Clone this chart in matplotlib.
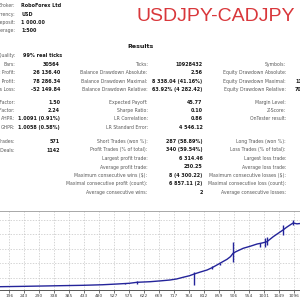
import matplotlib
matplotlib.use('Agg')
import matplotlib.pyplot as plt

W = H = 300

# header block
header_labels = ['Broker:', 'Currency:', 'Initial Deposit:', 'Leverage:']
header_values = ['RoboForex Ltd', 'USD', '1 000.00', '1:500']

# results table: (label, value, label, value, label, value)
sec1 = [
    ('Bars:', '30564', 'Ticks:', '10928432', 'Symbols:', ''),
    ('Total Net Profit:', '26 136.40', 'Balance Drawdown Absolute:', '2.56', 'Equity Drawdown Absolute:', ''),
    ('Gross Profit:', '78 286.34', 'Balance Drawdown Maximal:', '8 338.04 (41.16%)', 'Equity Drawdown Maximal:', '11'),
    ('Gross Loss:', '-52 149.84', 'Balance Drawdown Relative:', '63.92% (4 282.42)', 'Equity Drawdown Relative:', '70'),
]
sec2 = [
    ('Profit Factor:', '1.50', 'Expected Payoff:', '45.77', 'Margin Level:', ''),
    ('Recovery Factor:', '2.24', 'Sharpe Ratio:', '0.10', 'Z-Score:', ''),
    ('AHPR:', '1.0091 (0.91%)', 'LR Correlation:', '0.86', 'OnTester result:', ''),
    ('GHPR:', '1.0058 (0.58%)', 'LR Standard Error:', '4 546.12', '', ''),
]
sec3 = [
    ('Total Trades:', '571', 'Short Trades (won %):', '287 (58.89%)', 'Long Trades (won %):', ''),
    ('Total Deals:', '1142', 'Profit Trades (% of total):', '340 (59.54%)', 'Loss Trades (% of total):', ''),
    ('', '', 'Largest profit trade:', '6 314.46', 'Largest loss trade:', ''),
    ('', '', 'Average profit trade:', '230.25', 'Average loss trade:', ''),
    ('', '', 'Maximum consecutive wins ($):', '8 (4 300.22)', 'Maximum consecutive losses ($):', ''),
    ('', '', 'Maximal consecutive profit (count):', '6 857.11 (2)', 'Maximal consecutive loss (count):', ''),
    ('', '', 'Average consecutive wins:', '2', 'Average consecutive losses:', ''),
]

# balance curve (trade number, balance)
trades = [0, 60, 120, 167, 240, 303, 370, 429, 490, 537, 575, 600, 641, 675, 704,
          725, 745, 765, 780, 800, 821, 837, 852, 868, 884, 895, 903, 912, 935, 958,
          979, 995, 1010, 1030, 1045, 1061, 1072, 1083, 1093, 1105, 1115, 1140]
balance = [1000, 1250, 1500, 1830, 1950, 2070, 2200, 2310, 2500, 2760, 3000, 3350, 3550, 3850, 4140,
           4500, 5070, 5600, 6200, 6900, 7590, 8400, 9310, 10300, 11280, 12200, 13340, 13900, 15070, 15800,
           16550, 16900, 17340, 19070, 20200, 21380, 22300, 23100, 23800, 23500, 23620, 24000]
# drawdown spikes
spike_x = [560, 600, 780, 838, 862, 903, 988, 1003, 1010, 1060, 1092]
spike_lo = [2650, 2900, 2400, 7900, 9300, 10450, 15620, 15620, 16100, 19650, 23100]
spike_hi = [3000, 3800, 6800, 8800, 10100, 17350, 17000, 18620, 19070, 23100, 24830]

xtick_vals = [196, 243, 290, 338, 385, 433, 480, 527, 575, 622, 669, 717, 764, 812,
              859, 906, 954, 1001, 1049, 1096]
ygrid_vals = [5000, 10000, 15000, 20000, 25000]

fig = plt.figure(figsize=(3, 3), dpi=100)
fig.patch.set_facecolor('white')

LBL = '#5a5a5a'
VAL = '#1a1a1a'


def put(x, y, s, ha='left', bold=False, size=3.3, color=LBL):
    if not s:
        return
    fig.text(x / W, 1 - y / H, s, ha=ha, va='center', fontsize=size,
             fontweight='bold' if bold else 'normal', color=color, family='DejaVu Sans')


# header
for i, (lab, val) in enumerate(zip(header_labels, header_values)):
    y = 5.7 + i * 8.4
    put(15, y, lab, ha='right')
    put(21, y, val, bold=True, size=3.5, color=VAL)

# title
fig.text(295 / W, 1 - 20.7 / H, 'USDJPY-CADJPY', ha='right', va='baseline',
         fontsize=14, color='#d9373b', family='Liberation Sans')

fig.text(141 / W, 1 - 46.7 / H, 'Results', ha='center', va='center',
         fontsize=4.5, fontweight='bold', color=VAL, family='DejaVu Sans')

put(15, 55.7, 'History Quality:', ha='right')
put(23.3, 55.7, '99% real ticks', bold=True, size=3.5, color=VAL)


def draw_rows(rows, y0, step=8.5):
    for i, r in enumerate(rows):
        y = y0 + i * step
        put(15, y, r[0], ha='right')
        put(60, y, r[1], ha='right', bold=True, size=3.5, color=VAL)
        put(147.5, y, r[2], ha='right')
        put(202.5, y, r[3], ha='right', bold=True, size=3.5, color=VAL)
        put(286, y, r[4], ha='right')
        put(295, y, r[5], bold=True, size=3.5, color=VAL)


draw_rows(sec1, 64.3)
draw_rows(sec2, 102.3, 8.3)
draw_rows(sec3, 141.5)

# balance chart
ax = fig.add_axes([-52.7 / W, 1 - 290 / H, (311.2 + 52.7) / W, (290 - 211) / H])
ax.plot(trades, balance, color='#24249a', lw=1.0)
ax.vlines(spike_x, spike_lo, spike_hi, color='#24249a', lw=1.0)
ax.set_xlim(0, 1150)
ax.set_ylim(690, 27931)
ax.set_xticks(xtick_vals)
ax.set_yticks(ygrid_vals)
ax.grid(True, color='#c4c4c4', ls=(0, (2, 2)), lw=0.5)
ax.tick_params(axis='x', labelsize=3.2, length=2, width=0.5, pad=1, colors='#404040')
ax.tick_params(axis='y', length=0, labelleft=False)
ax.spines['top'].set_color('#9a9a9a')
ax.spines['top'].set_linewidth(0.6)
ax.spines['bottom'].set_color('#555555')
ax.spines['bottom'].set_linewidth(0.7)
ax.spines['left'].set_visible(False)
ax.spines['right'].set_visible(False)

fig.savefig('out.png', dpi=100)
